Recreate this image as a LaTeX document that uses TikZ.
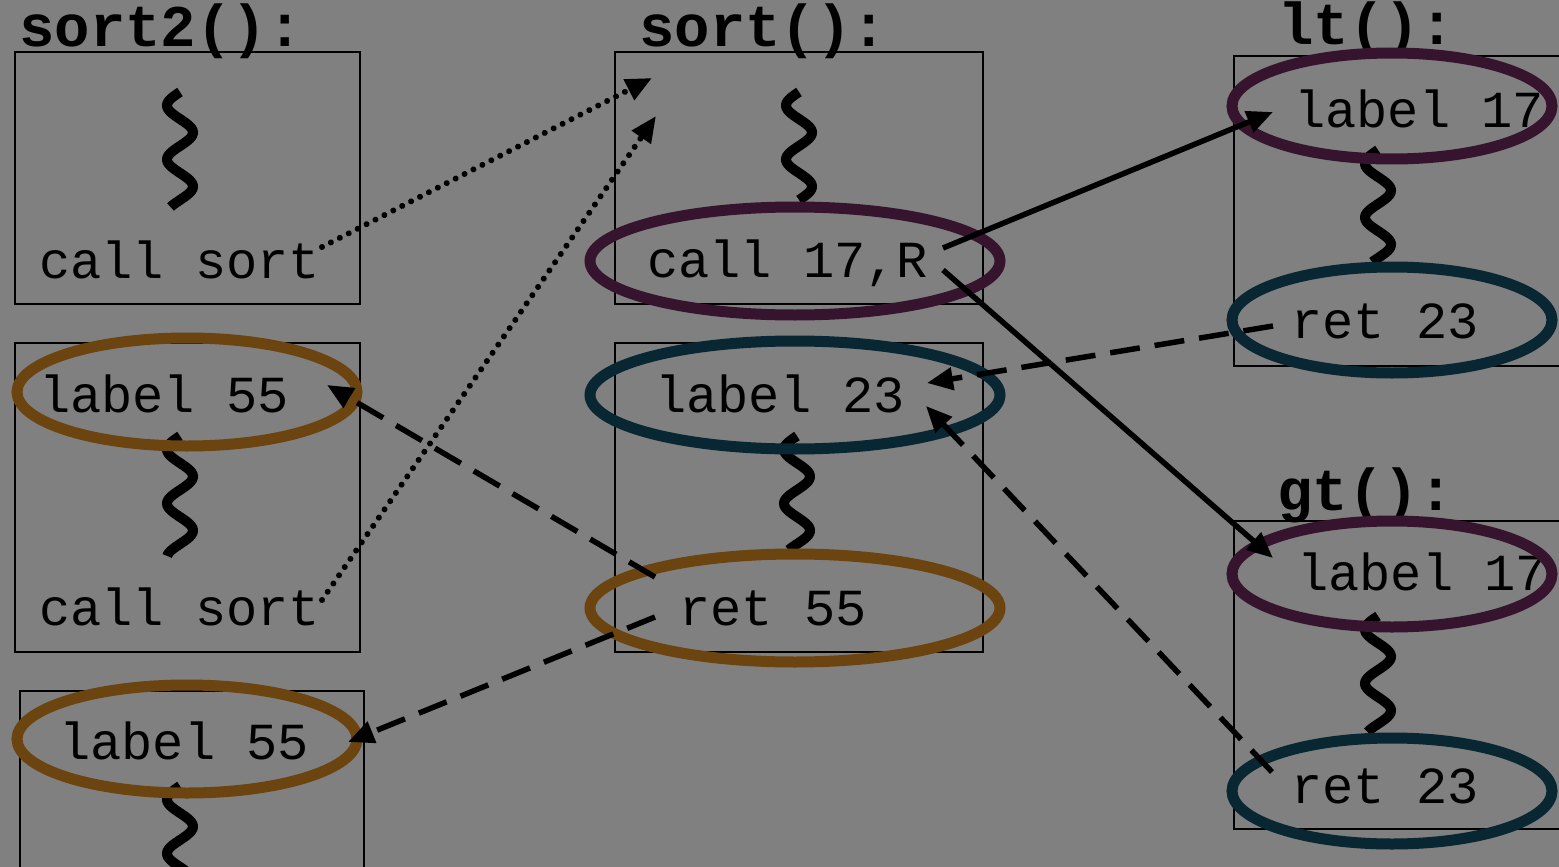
\documentclass[tikz,border=0pt]{standalone}
\usepackage{fontspec}
\setmonofont{Liberation Mono}
\usetikzlibrary{arrows.meta,shapes.geometric}
\definecolor{bggray}{RGB}{128,128,128}
\definecolor{purp}{RGB}{54,20,46}
\definecolor{tealc}{RGB}{9,38,51}
\definecolor{brownc}{RGB}{107,68,15}
\newcommand\mysquig[3]{\draw[squigl] plot[domain=#2:#3, samples=70, smooth] ({#1-13*sin((\x-#2)/54*360)}, {\x});}
\tikzset{
  box/.style={draw=black, line width=2pt},
  squigl/.style={line width=10pt, black},
  code/.style={font=\ttfamily\fontsize{52}{60}\selectfont, inner sep=0pt, anchor=base west},
  title/.style={font=\ttfamily\bfseries\fontsize{59}{66}\selectfont, inner sep=0pt, anchor=base west},
  ring/.style={draw=#1, line width=11pt, ellipse, inner sep=0pt},
  bigring/.style={ring=#1, minimum width=410pt, minimum height=108pt},
  smallring/.style={ring=#1, minimum width=340pt, minimum height=108pt},
  rightring/.style={ring=#1, minimum width=320pt, minimum height=106pt},
  solidarr/.style={-{Triangle[length=26pt,width=22pt]}, line width=5.5pt},
  dasharr/.style={-{Triangle[length=26pt,width=22pt]}, line width=5.5pt, dash pattern=on 30pt off 15pt},
  dotarr/.style={-{Triangle[length=26pt,width=22pt]}, line width=6pt, line cap=round, dash pattern=on 0.01pt off 10pt},
}
\begin{document}
\begin{tikzpicture}[x=1pt,y=-1pt]
\useasboundingbox (0,0) rectangle (1559,867);
\fill[bggray] (0,0) rectangle (1559,867);
\clip (0,0) rectangle (1559,867);
% titles
\node[title] (tsort2) at (19,47) {sort2():};
\node[title] (tsort) at (639,47) {sort():};
\node[title] (tlt) at (1278,45) {lt():};
\node[title] (tgt) at (1277,510) {gt():};
% boxes
\draw[box] (15,52) rectangle (360,304);
\draw[box] (15,343) rectangle (360,652);
\draw[box] (20,691) rectangle (364,900);
\draw[box] (615,52) rectangle (983,304);
\draw[box] (615,343) rectangle (983,652);
\draw[box] (1234,56) rectangle (1600,366);
\draw[box] (1234,521) rectangle (1600,829);
% squiggles
\mysquig{180}{92}{207}
\mysquig{180}{436}{556}
\mysquig{180}{786}{900}
\mysquig{799}{92}{200}
\mysquig{797}{436}{550}
\mysquig{1378}{150}{262}
\mysquig{1378}{616}{732}
% texts
\node[code] (cs1) at (39,278) {call sort};
\node[code] (l55a) at (39,412) {label 55};
\node[code] (cs2) at (39,625) {call sort};
\node[code] (l55b) at (59,759) {label 55};
\node[code] (c17) at (647,277) {call 17,R};
\node[code] (l23) at (655,412) {label 23};
\node[code] (r55) at (679,625) {ret 55};
\node[code] (l17a) at (1294,127) {label 17};
\node[code] (r23a) at (1291,338) {ret 23};
\node[code] (l17b) at (1297,590) {label 17};
\node[code] (r23b) at (1291,803) {ret 23};
% ellipses
\node[bigring=purp] (e17R) at (795,261) {};
\node[bigring=tealc] (e23) at (795,395) {};
\node[bigring=brownc] (e55) at (795,608) {};
\node[smallring=brownc] (e55a) at (187,392) {};
\node[smallring=brownc] (e55b) at (187,739) {};
\node[rightring=purp] (e17a) at (1392,106) {};
\node[rightring=tealc] (e23a) at (1392,320) {};
\node[rightring=purp] (e17b) at (1392,574) {};
\node[rightring=tealc] (e23b) at (1392,791) {};
% connector end points
\coordinate (p1s) at (322,247); \coordinate (p1e) at (652,78);
\coordinate (p2s) at (322,600); \coordinate (p2e) at (656,116);
\coordinate (p3s) at (943,248); \coordinate (p3e) at (1273,112);
\coordinate (p4s) at (943,270); \coordinate (p4e) at (1273,558);
\coordinate (p5s) at (1273,326); \coordinate (p5e) at (927,383);
\coordinate (p6s) at (1272,772); \coordinate (p6e) at (926,406);
\coordinate (p7s) at (655,577); \coordinate (p7e) at (327,385);
\coordinate (p8s) at (655,617); \coordinate (p8e) at (348,742);
% connectors
\draw[dotarr] (p1s) -- (p1e);
\draw[dotarr] (p2s) -- (p2e);
\draw[solidarr] (p3s) -- (p3e);
\draw[solidarr] (p4s) -- (p4e);
\draw[dasharr] (p5s) -- (p5e);
\draw[dasharr] (p6s) -- (p6e);
\draw[dasharr] (p7s) -- (p7e);
\draw[dasharr] (p8s) -- (p8e);
\end{tikzpicture}
\end{document}
